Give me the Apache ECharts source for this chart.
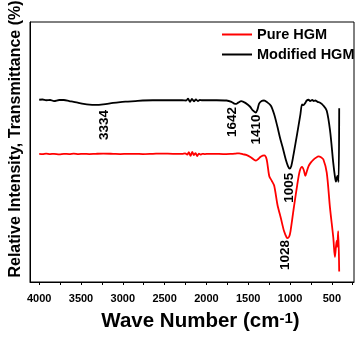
<!DOCTYPE html>
<html>
<head>
<meta charset="utf-8">
<script src="https://cdn.jsdelivr.net/npm/echarts@6/dist/echarts.min.js"></script>
<style>
    html, body { margin: 0; padding: 0; background: #fff; }
    #main { width: 357px; height: 337px; }
</style>
</head>
<body>
<div id="main"></div>
<script>
    // 图例名称
    var seriesNames = ['Pure HGM', 'Modified HGM'];

    // 红外光谱 [波数, 相对透过率]，纵坐标无刻度，数值为相对值
    var pureHGM = [
        [4000, 49.3], [3960, 49.2], [3917, 49.4], [3870, 49.2], [3823, 49.3], [3760, 49.1],
        [3705, 49.3], [3640, 49.2], [3587, 49.4], [3530, 49.2], [3469, 49.3], [3400, 49.2],
        [3328, 49.3], [3234, 49.4], [3116, 49.3], [3030, 49.2], [2939, 49.3], [2850, 49.3],
        [2762, 49.2], [2640, 49.3], [2526, 49.4], [2400, 49.3], [2290, 49.3], [2255, 49.5],
        [2230, 49.0], [2210, 49.9], [2190, 48.5], [2170, 50.0], [2150, 48.8], [2130, 49.6],
        [2110, 48.4], [2090, 49.4], [2070, 49.0], [2050, 49.3], [2020, 49.2], [1972, 49.3],
        [1900, 49.3], [1800, 49.2], [1701, 49.3], [1650, 49.4], [1607, 49.5], [1560, 49.1],
        [1524, 48.9], [1470, 48.0], [1430, 47.0], [1407, 46.7], [1380, 47.3], [1347, 48.3],
        [1308, 48.7], [1280, 47.2], [1249, 40.8], [1220, 39.0], [1190, 37.1], [1150, 29.6],
        [1111, 24.7], [1072, 19.6], [1040, 17.1], [1028, 16.9], [1010, 17.5], [994, 19.6],
        [955, 28.5], [915, 37.1], [884, 42.7], [856, 44.3], [835, 43.0], [817, 40.8],
        [800, 42.5], [778, 44.6], [750, 46.0], [719, 47.1], [690, 47.8], [660, 48.3],
        [630, 48.0], [601, 47.1], [561, 42.1], [522, 28.5], [483, 17.2], [463, 9.6],
        [443, 15.8], [436, 13.5], [424, 19.6], [412, 4.0]
    ];

    var modifiedHGM = [
        [4000, 70.1], [3960, 70.2], [3917, 69.9], [3870, 70.0], [3823, 69.6], [3760, 70.0],
        [3705, 70.0], [3640, 69.6], [3587, 69.3], [3530, 68.9], [3469, 68.5], [3400, 68.2],
        [3334, 68.1], [3234, 68.3], [3116, 68.9], [3030, 69.2], [2939, 69.4], [2850, 69.6],
        [2762, 69.8], [2640, 69.9], [2526, 69.9], [2400, 69.9], [2290, 69.9], [2243, 69.8],
        [2220, 70.5], [2196, 69.3], [2173, 70.4], [2149, 69.5], [2125, 70.2], [2102, 69.6],
        [2078, 70.0], [2055, 69.9], [1960, 69.9], [1878, 69.9], [1760, 69.8], [1701, 69.3],
        [1666, 68.6], [1642, 68.5], [1620, 69.0], [1583, 69.6], [1530, 68.8], [1480, 67.5],
        [1445, 66.0], [1410, 65.2], [1390, 66.3], [1370, 68.6], [1340, 69.6], [1311, 69.8],
        [1276, 69.2], [1229, 67.8], [1190, 64.5], [1150, 59.6], [1120, 55.5], [1091, 52.1],
        [1052, 47.2], [1025, 44.6], [1005, 43.6], [985, 44.6], [955, 49.6], [915, 57.0],
        [876, 64.5], [856, 68.3], [840, 68.0], [817, 68.9], [800, 69.8], [778, 70.1],
        [760, 69.6], [734, 70.0], [715, 69.6], [699, 69.8], [670, 69.3], [640, 68.9],
        [600, 67.8], [561, 65.9], [522, 58.4], [483, 45.8], [465, 41.0], [451, 38.6],
        [434, 40.8], [420, 38.5], [412, 66.8]
    ];

    // 标注的特征峰
    var modifiedPeaks = [3334, 1642, 1410, 1005];
    var purePeaks = [1028];

    // 横轴刻度
    var xTickValues = [250, 500, 750, 1000, 1250, 1500, 1750, 2000, 2250, 2500, 2750, 3000, 3250, 3500, 3750, 4000];
    var xLabelValues = [500, 1000, 1500, 2000, 2500, 3000, 3500, 4000];

    // 标注文字相对峰位的偏移（样式）：[向右, 向下]，单位 px
    var peakLabelOffset = {
        3334: [9, 5],
        1642: [-4, 3],
        1410: [1, 2],
        1005: [0, 4],
        1028: [-2, 2]
    };

    var fontFamily = 'Arial, "Liberation Sans", sans-serif';

    function findValue(data, wn) {
        for (var i = 0; i < data.length; i++) {
            if (data[i][0] === wn) {
                return data[i][1];
            }
        }
        return null;
    }

    function buildMarkPoint(data, peaks) {
        var items = [];
        for (var i = 0; i < peaks.length; i++) {
            var off = peakLabelOffset[peaks[i]];
            items.push({
                name: String(peaks[i]),
                coord: [peaks[i], findValue(data, peaks[i])],
                // 文字旋转 90 度后偏移量按旋转后的坐标系计算
                label: { offset: [-off[1], off[0]] }
            });
        }
        return {
            symbol: 'circle',
            symbolSize: 0,
            silent: true,
            label: {
                show: true,
                position: 'inside',
                rotate: 90,
                align: 'right',
                verticalAlign: 'middle',
                formatter: '{b}',
                color: '#000',
                fontSize: 13.5,
                fontWeight: 'bold',
                fontFamily: fontFamily
            },
            data: items
        };
    }

    var myChart = echarts.init(document.getElementById('main'));
    var option = {
        animation: false,
        grid: {
            left: 26,
            right: 3,
            top: 22,
            bottom: 48,
            show: true,
            borderColor: '#000',
            borderWidth: 1
        },
        legend: {
            data: seriesNames,
            orient: 'vertical',
            left: 222,
            top: 27,
            padding: 0,
            icon: 'rect',
            itemWidth: 30,
            itemHeight: 2,
            itemGap: 5,
            textStyle: {
                color: '#000',
                fontSize: 14.5,
                fontWeight: 'bold',
                fontFamily: fontFamily,
                lineHeight: 14
            }
        },
        xAxis: {
            type: 'value',
            inverse: true,
            min: 235,
            max: 4110,
            name: '{a|Wave Number (cm}{b|-1}{a|)}',
            nameLocation: 'middle',
            nameGap: 29,
            nameTextStyle: {
                padding: [0, 0, 0, 17],
                rich: {
                    a: { fontSize: 20.5, fontWeight: 'bold', color: '#000', fontFamily: fontFamily },
                    b: { fontSize: 15, fontWeight: 'bold', color: '#000', fontFamily: fontFamily, verticalAlign: 'top', padding: [0, 0, 6, 0] }
                }
            },
            axisLine: { show: true, onZero: false, lineStyle: { color: '#000', width: 1 } },
            axisTick: {
                show: true,
                customValues: xTickValues,
                length: 3,
                lineStyle: { color: '#000' }
            },
            axisLabel: {
                customValues: xLabelValues,
                margin: 11,
                color: '#000',
                fontSize: 11,
                fontWeight: 'bold',
                fontFamily: fontFamily,
                formatter: function (v) {
                    return String(v);
                }
            },
            splitLine: { show: false }
        },
        yAxis: {
            type: 'value',
            min: 0,
            max: 100,
            name: 'Relative Intensity, Transmittance (%)',
            nameLocation: 'middle',
            nameGap: 6,
            nameTextStyle: {
                color: '#000',
                fontSize: 16,
                fontWeight: 'bold',
                fontFamily: fontFamily,
                padding: [0, 0, 0, 26]
            },
            axisLine: { show: true, lineStyle: { color: '#000', width: 1 } },
            axisTick: { show: false },
            axisLabel: { show: false },
            splitLine: { show: false }
        },
        series: [
            {
                name: seriesNames[0],
                type: 'line',
                data: pureHGM,
                symbol: 'none',
                smooth: 0.3,
                lineStyle: { color: '#ff0000', width: 1.8 },
                itemStyle: { color: '#ff0000' },
                markPoint: buildMarkPoint(pureHGM, purePeaks)
            },
            {
                name: seriesNames[1],
                type: 'line',
                data: modifiedHGM,
                symbol: 'none',
                smooth: 0.3,
                lineStyle: { color: '#000000', width: 1.8 },
                itemStyle: { color: '#000000' },
                markPoint: buildMarkPoint(modifiedHGM, modifiedPeaks)
            }
        ]
    };
    myChart.setOption(option);
</script>
</body>
</html>
